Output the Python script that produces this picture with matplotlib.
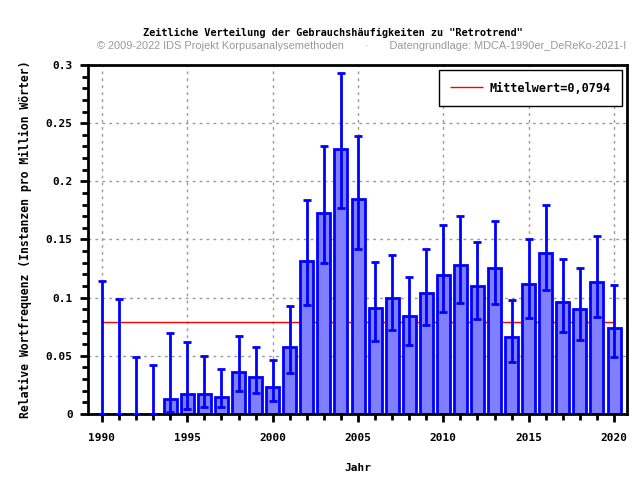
import numpy as np
import matplotlib
matplotlib.use("Agg")
import matplotlib.pyplot as plt
from matplotlib.ticker import MultipleLocator

jahre = np.arange(1990, 2021)
werte = [0, 0, 0, 0, 0.0127, 0.017, 0.017, 0.0149, 0.0365, 0.0322,
         0.0236, 0.0575, 0.1313, 0.1727, 0.2279, 0.1848, 0.0908, 0.0994, 0.0839, 0.1037,
         0.1193, 0.1279, 0.1098, 0.1253, 0.0658, 0.1115, 0.1382, 0.0960, 0.0900, 0.1132,
         0.0736]
oben = [0.114, 0.099, 0.049, 0.042, 0.070, 0.0623, 0.050, 0.0388, 0.0667, 0.058,
        0.0466, 0.0925, 0.1836, 0.2305, 0.2931, 0.239, 0.1305, 0.1365, 0.1175, 0.1417,
        0.1624, 0.1701, 0.1477, 0.1658, 0.0977, 0.1503, 0.1796, 0.133, 0.1253, 0.1529,
        0.1106]
unten = [0, 0, 0, 0, 0.002, 0.0043, 0.0063, 0.0063, 0.0201, 0.0184,
         0.0115, 0.0356, 0.0934, 0.1296, 0.177, 0.1422, 0.0629, 0.0724, 0.0595, 0.0767,
         0.0879, 0.0957, 0.0813, 0.0948, 0.0448, 0.0822, 0.1063, 0.0701, 0.064, 0.083,
         0.0494]
mittelwert = 0.0794

werte = np.array(werte)
fehler = np.array([werte - np.array(unten), np.array(oben) - werte])

mono = "DejaVu Sans Mono"
fig = plt.figure(figsize=(6.4, 4.8), dpi=100)
ax = fig.add_axes([0.1375, 0.1375, 0.8422, 0.7271])

ax.hlines(mittelwert, 1990, 2020, color="red", linewidth=1, zorder=1,
          label="Mittelwert=0,0794")
ax.bar(jahre, werte, width=0.76, color="#8080ff", edgecolor="#0000ff",
       linewidth=2, zorder=2)
ax.errorbar(jahre, werte, yerr=fehler, fmt="none", ecolor="#0000ff",
            elinewidth=2, capsize=3, capthick=2, zorder=3)

ax.set_xlim(1989.18, 2020.76)
ax.set_ylim(0, 0.3)
ax.xaxis.set_major_locator(MultipleLocator(5))
ax.xaxis.set_minor_locator(MultipleLocator(1))
ax.yaxis.set_minor_locator(MultipleLocator(0.01))
ax.set_yticks([0, 0.05, 0.1, 0.15, 0.2, 0.25, 0.3])
ax.set_yticklabels(["0", "0.05", "0.1", "0.15", "0.2", "0.25", "0.3"])
ax.tick_params(which="major", length=6, width=2, direction="out")
ax.tick_params(which="minor", length=4, width=2, direction="out")
ax.tick_params(axis="x", which="major", pad=8)
ax.tick_params(axis="y", which="major", pad=5)
for lbl in ax.get_xticklabels() + ax.get_yticklabels():
    lbl.set_fontfamily(mono)
    lbl.set_fontweight("bold")
    lbl.set_fontsize(8)
ax.grid(True, which="major", color="#999999", linestyle=(0, (2, 3)), linewidth=1, zorder=0)
ax.set_axisbelow(True)
for s in ax.spines.values():
    s.set_linewidth(2)

ax.set_xlabel("Jahr", family=mono, weight="bold", fontsize=8, labelpad=14)
ax.set_ylabel("Relative Wortfrequenz (Instanzen pro Million Wörter)", family=mono,
              weight="bold", fontsize=8.3, labelpad=10)

leg = ax.legend(loc="upper right", prop={"family": mono, "weight": "bold", "size": 8.5},
                fancybox=False, edgecolor="black", framealpha=1, handlelength=2.8,
                handletextpad=0.5, borderpad=1.0, borderaxespad=0.4)
leg.get_frame().set_linewidth(1)

fig.text(0.52, 0.931, 'Zeitliche Verteilung der Gebrauchshäufigkeiten zu "Retrotrend"',
         ha="center", va="center", family=mono, weight="bold", fontsize=7.4)
fig.text(0.565, 0.904, "© 2009-2022 IDS Projekt Korpusanalysemethoden       ·       "
         "Datengrundlage: MDCA-1990er_DeReKo-2021-I",
         ha="center", va="center", family="Liberation Sans", fontsize=7.9, color="#999999")

fig.savefig("out.png", dpi=100)
